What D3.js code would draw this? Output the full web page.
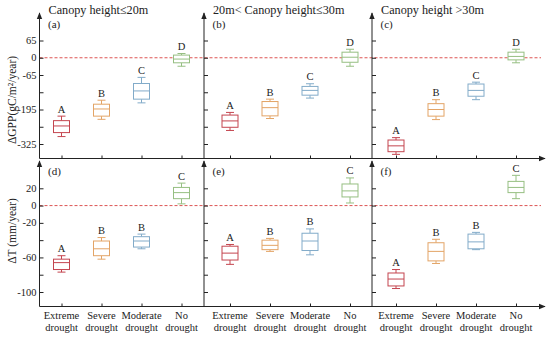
<!DOCTYPE html>
<html><head><meta charset="utf-8">
<script src="https://cdn.jsdelivr.net/npm/d3@7"></script>
<style>body{margin:0;background:#fff}svg{display:block}svg text{font-family:"Liberation Serif","Times New Roman",Times,serif}</style>
</head><body><svg id="c" width="550" height="338"></svg>
<script>
const categories = ["Extreme drought","Severe drought","Moderate drought","No drought"];
const panelTitles = ["Canopy height\u226420m","20m< Canopy height\u226430m","Canopy height >30m"];
const tagsTop = ["(a)","(b)","(c)"];
const tagsBottom = ["(d)","(e)","(f)"];
const colors = ["#c4454f","#e3a466","#82abc9","#96bf82"];
// [whiskerLow, q1, median, q3, whiskerHigh]
const gppA = [[-297,-282,-257,-237,-220],[-232,-220,-193,-175,-160],[-170,-156,-125,-97,-74],[-32,-19,-5,10,16]];
const gppB = [[-274,-262,-238,-216,-206],[-229,-219,-188,-165,-156],[-152,-141,-123,-108,-98],[-32,-17,2,21,32]];
const gppC = [[-364,-354,-332,-310,-301],[-233,-220,-195,-173,-158],[-158,-145,-123,-99,-92],[-19,-8,5,21,32]];
const dtD = [[-77,-74,-66,-62,-58],[-62,-58,-50,-41,-37],[-50,-48,-41,-36,-33],[2,8,15,21,26]];
const dtE = [[-68,-63,-55,-47,-45],[-53,-51,-46,-40,-38],[-57,-52,-41,-32,-27],[3,10,17,25,32]];
const dtF = [[-96,-93,-85,-78,-74],[-67,-64,-53,-43,-39],[-51,-50,-42,-33,-31],[8,15,21,28,35]];
const lettersGpp = [["A","B","C","D"],["A","B","C","D"],["A","B","C","D"]];
const lettersDt = [["A","B","B","C"],["A","B","B","C"],["A","B","B","C"]];
const gppTicks = [65,0,-65,-130,-195,-260,-325];
const gppTickLabels = ["65","0","-65","","-195","","-325"];
const dtTicks = [20,0,-20,-40,-60,-80,-100];
const dtTickLabels = ["20","0","-20","","-60","","-100"];

const svg = d3.select("#c");
const panelX = [39.5, 204, 372];
const catOff = [22, 26, 24];
const rows = [
  {data:[gppA,gppB,gppC], letters:lettersGpp, ticks:gppTicks, labels:gppTickLabels, tags:tagsTop,
   y: d3.scaleLinear().domain([-325,65]).range([144,40.5]), axisY:158.5, top:13, label:"\u0394GPP(gC/m\u00b2/year)", labelY:100},
  {data:[dtD,dtE,dtF], letters:lettersDt, ticks:dtTicks, labels:dtTickLabels, tags:tagsBottom,
   y: d3.scaleLinear().domain([-100,20]).range([292,188.3]), axisY:306.5, top:161, label:"\u0394T (mm/year)", labelY:231}
];

const defs = svg.append("defs");
defs.append("marker").attr("id","arr").attr("viewBox","0 0 10 10").attr("refX",9).attr("refY",5)
  .attr("markerWidth",7).attr("markerHeight",7).attr("markerUnits","userSpaceOnUse").attr("orient","auto")
  .append("path").attr("d","M0,1 L10,5 L0,9 Z").attr("fill","#222");

rows.forEach((row, ri) => {
  const y = row.y;
  svg.append("line").attr("x1",panelX[0]).attr("x2",541).attr("y1",y(0)).attr("y2",y(0))
    .attr("stroke","#d9413f").attr("stroke-width",0.9).attr("stroke-dasharray","3,2");
  svg.append("line").attr("x1",panelX[0]).attr("x2",545).attr("y1",row.axisY).attr("y2",row.axisY)
    .attr("stroke","#222").attr("stroke-width",1).attr("marker-end","url(#arr)");
  svg.append("text").attr("transform",`translate(16,${row.labelY}) rotate(-90)`).attr("text-anchor","middle")
    .attr("font-size",11.5).attr("fill","#222").text(row.label);
  row.data.forEach((pdata, pi) => {
    const x0 = panelX[pi];
    const x = d3.scalePoint().domain(categories).range([x0+catOff[pi], x0+catOff[pi]+120]);
    svg.append("line").attr("x1",x0).attr("x2",x0).attr("y1",row.axisY).attr("y2",row.top)
      .attr("stroke","#222").attr("stroke-width",1).attr("marker-end","url(#arr)");
    const ax = svg.append("g").attr("transform",`translate(${x0},0)`)
      .call(d3.axisRight(y).tickValues(row.ticks).tickSize(4).tickFormat(""));
    ax.select(".domain").remove();
    ax.selectAll("line").attr("stroke","#222");
    if (pi === 0) {
      row.ticks.forEach((t, i) => {
        if (!row.labels[i]) return;
        svg.append("text").attr("x",x0-3).attr("y",y(t)+3.5).attr("text-anchor","end")
          .attr("font-size",10.5).attr("fill","#222").text(row.labels[i]);
      });
    }
    const xa = svg.append("g").attr("transform",`translate(0,${row.axisY})`)
      .call(d3.axisTop(x).tickSize(3).tickFormat(""));
    xa.select(".domain").remove();
    xa.selectAll("line").attr("stroke","#222");
    svg.append("text").attr("x",x0+8.5).attr("y",ri===0?28:175)
      .attr("font-size",11).attr("fill","#222").text(row.tags[pi]);
    if (ri===0) {
      svg.append("text").attr("x",x0+9).attr("y",14)
        .attr("font-size",12.2).attr("fill","#222").text(panelTitles[pi]);
    } else {
      categories.forEach(c => {
        const parts = c.split(" ");
        const t = svg.append("text").attr("x",x(c)).attr("y",318.5).attr("text-anchor","middle")
          .attr("font-size",10.5).attr("fill","#222");
        t.append("tspan").attr("x",x(c)).text(parts[0]);
        t.append("tspan").attr("x",x(c)).attr("dy",12.5).text(parts[1]);
      });
    }
    const bw = 16, cw = 8;
    pdata.forEach((b, i) => {
      const cx = x(categories[i]);
      const g = svg.append("g").attr("stroke",colors[i]).attr("stroke-width",1).attr("fill","none");
      g.append("line").attr("x1",cx).attr("x2",cx).attr("y1",y(b[0])).attr("y2",y(b[1]));
      g.append("line").attr("x1",cx).attr("x2",cx).attr("y1",y(b[3])).attr("y2",y(b[4]));
      g.append("line").attr("x1",cx-cw/2).attr("x2",cx+cw/2).attr("y1",y(b[0])).attr("y2",y(b[0]));
      g.append("line").attr("x1",cx-cw/2).attr("x2",cx+cw/2).attr("y1",y(b[4])).attr("y2",y(b[4]));
      g.append("rect").attr("x",cx-bw/2).attr("y",y(b[3])).attr("width",bw).attr("height",y(b[1])-y(b[3]))
        .attr("fill","#fff");
      g.append("line").attr("x1",cx-bw/2).attr("x2",cx+bw/2).attr("y1",y(b[2])).attr("y2",y(b[2]));
      svg.append("text").attr("x",cx).attr("y",y(b[4])-3.5).attr("text-anchor","middle")
        .attr("font-size",10.5).attr("fill","#222").text(row.letters[pi][i]);
    });
  });
});
</script></body></html>
